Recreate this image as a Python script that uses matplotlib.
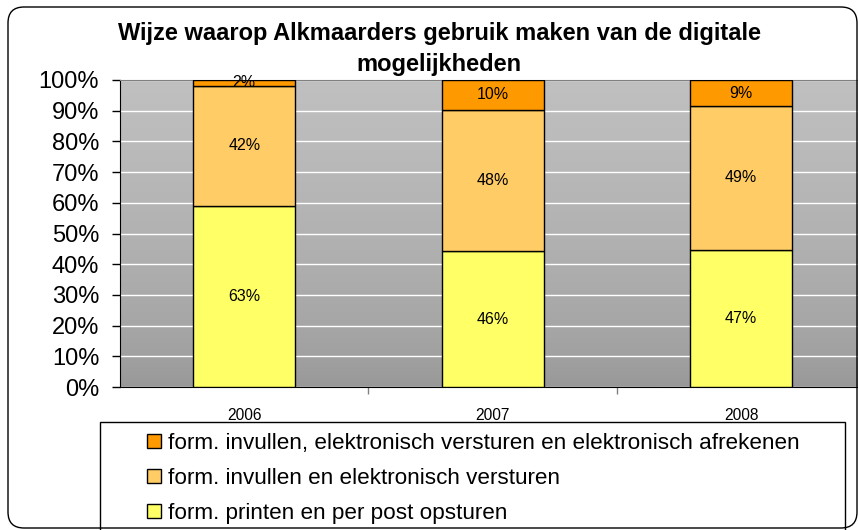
import numpy as np
import matplotlib
matplotlib.use("Agg")
import matplotlib.pyplot as plt
from matplotlib.patches import FancyBboxPatch, Patch, Rectangle
from matplotlib.transforms import IdentityTransform

plt.rcParams["font.family"] = ["Liberation Sans", "DejaVu Sans"]

# --- data (labels as shown, stacked to 100%) ---
years = ["2006", "2007", "2008"]
printen = [63, 46, 47]
invullen = [42, 48, 49]
afrekenen = [2, 10, 9]

series_names = [
    "form. printen en per post opsturen",
    "form. invullen en elektronisch versturen",
    "form. invullen, elektronisch versturen en elektronisch afrekenen",
]
colors = ["#FFFF66", "#FFCC66", "#FF9900"]

values = np.array([printen, invullen, afrekenen], dtype=float)
shares = values / values.sum(axis=0)

fig = plt.figure(figsize=(8.58, 5.30), dpi=100)
ax = fig.add_axes([120 / 858, 143 / 530, 738 / 858, 307 / 530])

# gradient background of the plot area (light on top, darker at the bottom)
grad = np.linspace(0, 1, 256) ** 0.6
grad = (150 + 42 * grad) / 255.0
bg = np.repeat(grad[:, None, None], 3, axis=2)
ax.imshow(bg, extent=(-0.5, 2.47, 0, 1), aspect="auto", zorder=0, origin="lower")

x = np.arange(len(years))
bottom = np.zeros(len(years))
for i in range(3):
    ax.bar(x, shares[i], 0.41, bottom=bottom, color=colors[i],
           edgecolor="black", linewidth=1.0, zorder=3)
    for j in range(len(years)):
        ax.text(x[j], bottom[j] + shares[i][j] / 2, f"{int(values[i][j])}%",
                ha="center", va="center", fontsize=11.5, zorder=4)
    bottom += shares[i]

ax.set_xlim(-0.5, 2.47)
ax.set_ylim(0, 1)
ticks = np.arange(0, 1.01, 0.1)
ax.set_yticks(ticks)
ax.set_yticklabels([f"{int(round(v * 100))}%" for v in ticks])
ax.yaxis.grid(True, color="white", linewidth=1.0, zorder=1)
ax.set_axisbelow(True)
ax.tick_params(axis="y", direction="out", length=6, width=1, labelsize=17, pad=9)

ax.set_xticks(x)
ax.set_xticklabels(years)
ax.set_xticks([0.5, 1.5], minor=True)
ax.tick_params(axis="x", which="major", length=0, labelsize=11.2, pad=15)
ax.tick_params(axis="x", which="minor", direction="out", length=5, width=1, color="#808080")

ax.spines["top"].set_color("#808080")
ax.spines["right"].set_visible(False)
ax.spines["left"].set_color("black")
ax.spines["bottom"].set_color("black")

fig.text(439 / 858, 1 - 49 / 530,
         "Wijze waarop Alkmaarders gebruik maken van de digitale\nmogelijkheden",
         ha="center", va="center", fontsize=17, fontweight="bold", linespacing=1.4)

# legend box runs off the bottom edge, like the original
fig.patches.append(Rectangle((100, -20), 745, 530 - 422 + 20, transform=IdentityTransform(),
                             facecolor="white", edgecolor="black", linewidth=1.0, zorder=1))

handles = [Patch(facecolor=colors[i], edgecolor="black", linewidth=1.0)
           for i in [2, 1, 0]]
labels = [series_names[i] for i in [2, 1, 0]]
leg = fig.legend(handles, labels, loc="upper left",
                 bbox_to_anchor=(147 / 858, 1 - 433 / 530),
                 fontsize=16.2, frameon=False,
                 handlelength=0.62, handleheight=0.62, handletextpad=0.31,
                 labelspacing=0.62, borderpad=0, borderaxespad=0)
leg.set_zorder(5)

# rounded outer border of the chart
border = FancyBboxPatch((8, 2), 849, 521, boxstyle="round,pad=0,rounding_size=16",
                        transform=IdentityTransform(), facecolor="none",
                        edgecolor="black", linewidth=1.0, zorder=6)
fig.patches.append(border)

fig.savefig("out.png", dpi=100)
